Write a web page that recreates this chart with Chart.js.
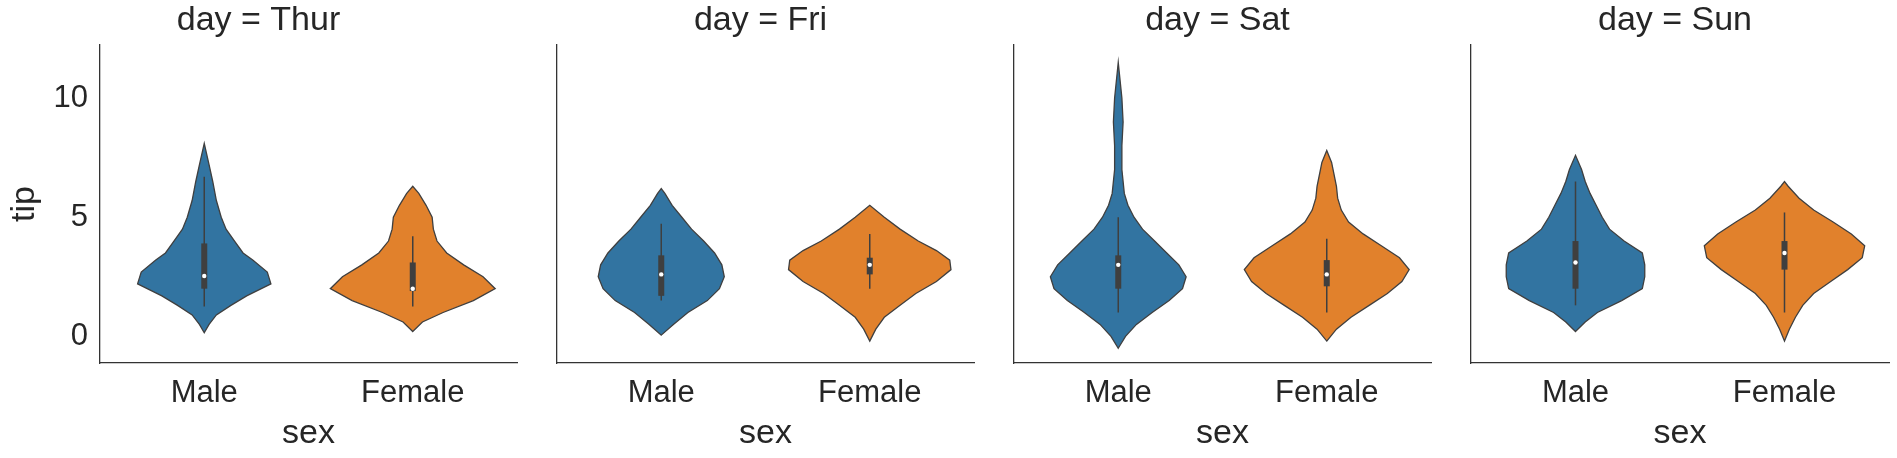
<!DOCTYPE html>
<html>
<head>
<meta charset="utf-8">
<script src="https://cdn.jsdelivr.net/npm/chart.js@4.4.0/dist/chart.umd.min.js"></script>
<style>
  body { margin: 0; background: #fff; }
  #wrap { position: relative; width: 1897px; height: 458px; }
  canvas { position: absolute; top: 0; }
</style>
</head>
<body>
<div id="wrap"></div>
<script>
// facets and categories
const days = ['Thur', 'Fri', 'Sat', 'Sun'];
const sexes = ['Male', 'Female'];
const yTicks = [0, 5, 10];

// violin outlines: tip levels and half-widths (in category units)
const thurMaleTip = [0.15, 0.5, 0.9, 1.3, 1.7, 2.2, 2.7, 3.2, 3.5, 4, 4.5, 5, 5.7, 6.5, 7.2, 8.1];
const thurMaleW   = [0, 4, 10, 22, 35, 55, 52, 40, 32, 25, 18, 14, 10, 7, 4, 0];
const thurFemaleTip = [0.2, 0.6, 1.0, 1.5, 2.0, 2.5, 3.0, 3.5, 4.0, 4.5, 5.0, 5.5, 6.0, 6.3];
const thurFemaleW   = [0, 8, 25, 50, 68, 58, 42, 28, 20, 17, 16, 11, 5, 0];
const friMaleTip = [0.05, 0.5, 1.0, 1.5, 2.0, 2.5, 3.0, 3.5, 4.0, 4.5, 5.0, 5.5, 6.0, 6.2];
const friMaleW   = [0, 10, 22, 38, 48, 52, 50, 44, 35, 25, 17, 9, 3, 0];
const friFemaleTip = [-0.2, 0.3, 0.8, 1.3, 1.8, 2.3, 2.8, 3.2, 3.6, 4.0, 4.5, 5.0, 5.5];
const friFemaleW   = [0, 5, 12, 25, 38, 55, 67, 66, 55, 40, 25, 12, 0];
const satMaleTip = [-0.5, 0, 0.5, 1, 1.5, 2, 2.5, 3, 3.5, 4, 4.5, 5, 5.5, 6, 7, 8, 9, 10, 11, 11.5];
const satMaleW   = [0, 6, 15, 28, 42, 53, 56, 50, 40, 30, 20, 13, 8, 5, 3, 3, 4, 3, 1, 0];
const satFemaleTip = [-0.2, 0.3, 0.8, 1.3, 1.8, 2.3, 2.8, 3.3, 3.8, 4.3, 4.8, 5.3, 5.8, 6.3, 6.8, 7.3, 7.8];
const satFemaleW   = [0, 8, 20, 35, 50, 62, 68, 60, 45, 30, 18, 12, 9, 8, 6, 4, 0];
const sunMaleTip = [0.2, 0.6, 1.0, 1.5, 2.0, 2.5, 3.0, 3.5, 4.0, 4.5, 5.0, 5.5, 6.0, 6.5, 7.0, 7.6];
const sunMaleW   = [0, 8, 18, 38, 55, 57, 57, 55, 40, 28, 22, 17, 12, 8, 5, 0];
const sunFemaleTip = [-0.2, 0.3, 0.8, 1.3, 1.8, 2.3, 2.8, 3.3, 3.8, 4.3, 4.8, 5.3, 5.8, 6.3, 6.5];
const sunFemaleW   = [0, 4, 9, 15, 24, 38, 52, 64, 66, 55, 40, 24, 12, 3, 0];
const WIDTH_UNIT = 172; // width values above are per 1/172 of a category

// inner box: [whiskerLow, q1, median, q3, whiskerHigh]
const thurBox = [[1.25, 2.0, 2.53, 3.9, 6.7], [1.25, 1.9, 2.0, 3.1, 4.2]];
const friBox  = [[1.5, 1.7, 2.6, 3.4, 4.73], [2.0, 2.6, 3.0, 3.3, 4.3]];
const satBox  = [[1.0, 2.0, 3.0, 3.4, 5.0], [1.0, 2.1, 2.6, 3.2, 4.1]];
const sunBox  = [[1.3, 2.0, 3.1, 4.0, 6.5], [1.0, 2.8, 3.5, 4.0, 5.2]];

const violins = [
  [[thurMaleTip, thurMaleW], [thurFemaleTip, thurFemaleW]],
  [[friMaleTip, friMaleW], [friFemaleTip, friFemaleW]],
  [[satMaleTip, satMaleW], [satFemaleTip, satFemaleW]],
  [[sunMaleTip, sunMaleW], [sunFemaleTip, sunFemaleW]]
];
const boxes = [thurBox, friBox, satBox, sunBox];
const colors = ['#3274a1', '#e1812c'];
const ink = '#262626';

const panelL = [100, 557, 1014, 1471];
const panelR = [517, 974, 1431, 1889];

const violinPlugin = {
  id: 'violin',
  afterDatasetsDraw(chart) {
    const { ctx, scales: { x, y } } = chart;
    const d = chart.options.plugins.violin;
    d.shapes.forEach(([tips, ws], i) => {
      ctx.save();
      ctx.beginPath();
      tips.forEach((t, k) => {
        const px = x.getPixelForValue(i + ws[k] / WIDTH_UNIT);
        const py = y.getPixelForValue(t);
        k ? ctx.lineTo(px, py) : ctx.moveTo(px, py);
      });
      for (let k = tips.length - 1; k >= 0; k--) {
        ctx.lineTo(x.getPixelForValue(i - ws[k] / WIDTH_UNIT), y.getPixelForValue(tips[k]));
      }
      ctx.closePath();
      ctx.fillStyle = colors[i];
      ctx.fill();
      ctx.strokeStyle = '#3f3f3f';
      ctx.lineWidth = 1.3;
      ctx.stroke();
      // inner box
      const b = d.boxes[i];
      const cx = x.getPixelForValue(i);
      ctx.strokeStyle = '#3f3f3f';
      ctx.lineWidth = 1.5;
      ctx.beginPath();
      ctx.moveTo(cx, y.getPixelForValue(b[0]));
      ctx.lineTo(cx, y.getPixelForValue(b[4]));
      ctx.stroke();
      ctx.lineWidth = 6;
      ctx.beginPath();
      ctx.moveTo(cx, y.getPixelForValue(b[1]));
      ctx.lineTo(cx, y.getPixelForValue(b[3]));
      ctx.stroke();
      ctx.fillStyle = '#fff';
      ctx.beginPath();
      ctx.arc(cx, y.getPixelForValue(b[2]), 2.2, 0, Math.PI * 2);
      ctx.fill();
      ctx.restore();
    });
  }
};

const wrap = document.getElementById('wrap');
days.forEach((day, p) => {
  const first = p === 0;
  const leftW = first ? 100 : 10;
  const cv = document.createElement('canvas');
  const left = panelL[p] - leftW;
  const w = panelR[p] - panelL[p] + leftW + 6;
  cv.style.left = left + 'px';
  cv.style.width = w + 'px';
  cv.style.height = '458px';
  cv.width = w; cv.height = 458;
  wrap.appendChild(cv);

  new Chart(cv, {
    type: 'scatter',
    data: { datasets: [{ data: [], showLine: false }] },
    plugins: [violinPlugin],
    options: {
      responsive: false,
      animation: false,
      layout: { padding: { right: 6 } },
      plugins: {
        legend: { display: false },
        tooltip: { enabled: false },
        title: {
          display: true,
          text: 'day = ' + day,
          color: ink,
          font: { family: 'Arial, Liberation Sans', size: 34, weight: 'normal', lineHeight: 1 },
          padding: { top: 4, bottom: 7 }
        },
        violin: { shapes: violins[p], boxes: boxes[p] }
      },
      scales: {
        x: {
          type: 'linear', min: -0.5, max: 1.5,
          afterBuildTicks: s => { s.ticks = [{ value: 0 }, { value: 1 }]; },
          afterFit: s => { s.height = 95; },
          grid: { display: false, drawTicks: false },
          border: { color: '#333', width: 1.3 },
          ticks: {
            color: ink, padding: 12,
            font: { family: 'Arial, Liberation Sans', size: 31 },
            callback: v => sexes[v]
          },
          title: {
            display: true, text: 'sex', color: ink, padding: { top: 2 },
            font: { family: 'Arial, Liberation Sans', size: 34 }
          }
        },
        y: {
          min: -1.12, max: 12.23,
          afterBuildTicks: s => { s.ticks = yTicks.map(v => ({ value: v })); },
          afterFit: s => { s.width = leftW; },
          grid: { display: false, drawTicks: false },
          border: { color: '#333', width: 1.3 },
          ticks: {
            display: first, color: ink, padding: 12,
            font: { family: 'Arial, Liberation Sans', size: 31 }
          },
          title: {
            display: first, text: 'tip', color: ink, padding: { bottom: 6 },
            font: { family: 'Arial, Liberation Sans', size: 34 }
          }
        }
      }
    }
  });
});
</script>
</body>
</html>
